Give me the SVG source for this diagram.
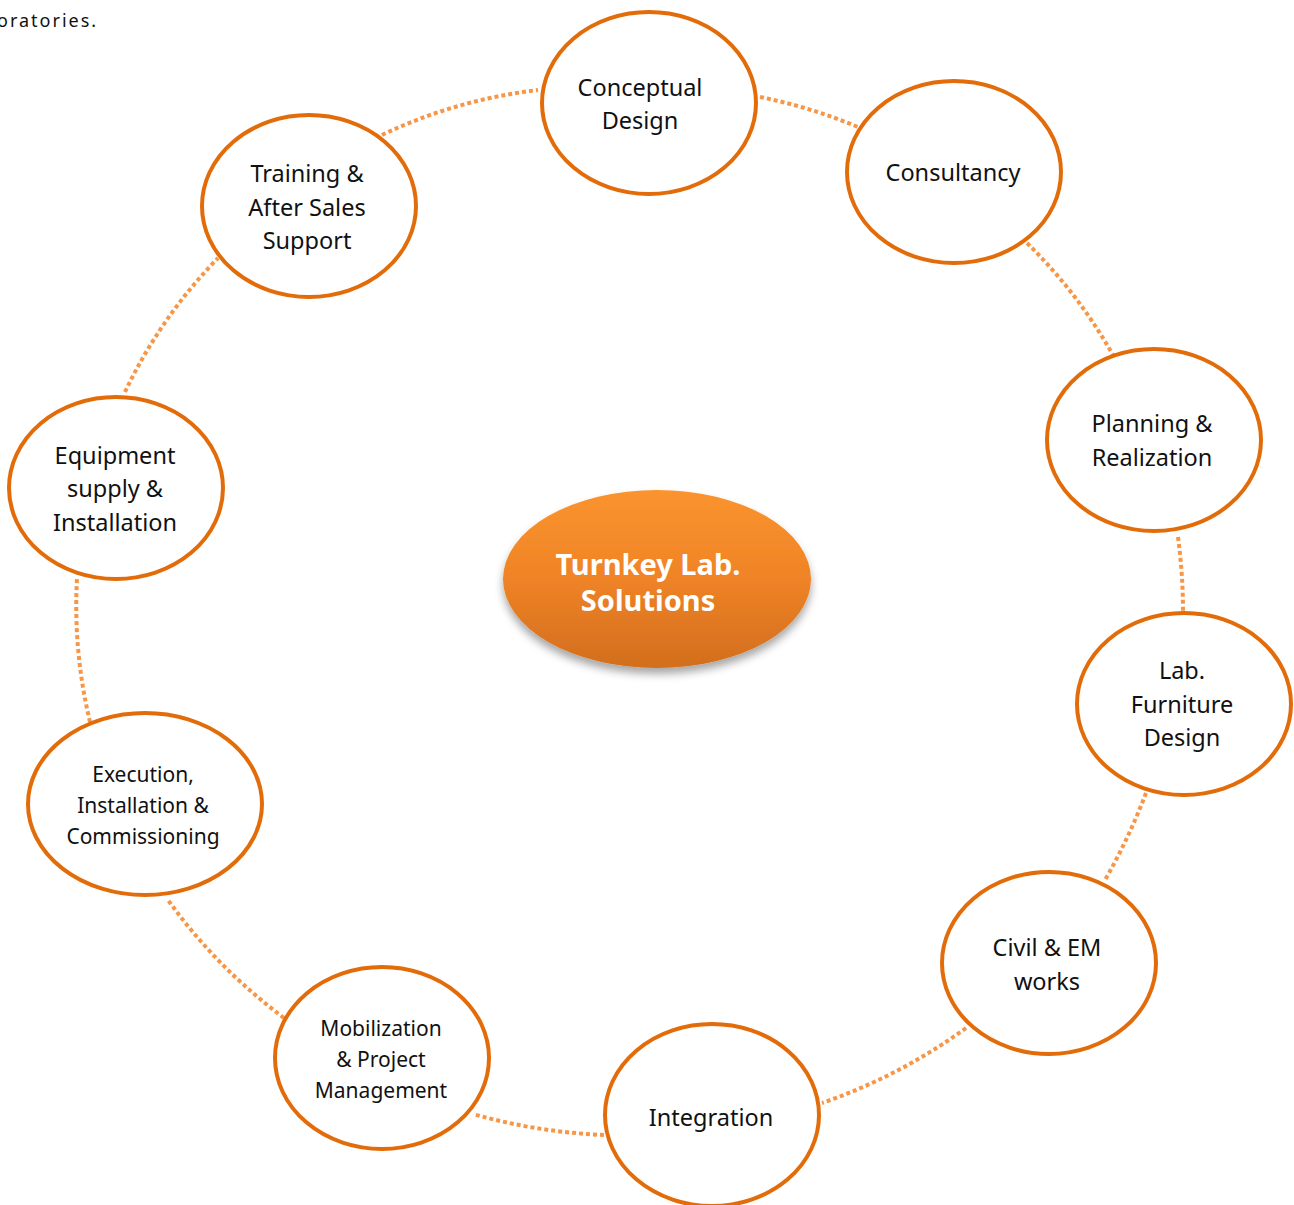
<svg xmlns="http://www.w3.org/2000/svg" width="1294" height="1205" viewBox="0 0 1294 1205">
<style>
.node ellipse{fill:#fff;stroke:#E36C0A;stroke-width:4}
.node text{font-family:"Noto Sans","Open Sans",sans-serif;font-size:23.5px;fill:#111;text-anchor:middle}
.node text.sm{font-size:21px}
.conn path{fill:none;stroke:#F79646;stroke-width:4;stroke-dasharray:4 3}
.hub text{font-family:"Noto Sans","Open Sans",sans-serif;font-size:29px;font-weight:bold;fill:#fff;text-anchor:middle}
.cap{font-family:"Noto Sans","Open Sans",sans-serif;font-size:18px;letter-spacing:2px;fill:#111}
</style>
<defs>
<linearGradient id="hubg" x1="0" y1="0" x2="0" y2="1">
<stop offset="0" stop-color="#FA942E"/>
<stop offset="0.5" stop-color="#EF8326"/>
<stop offset="1" stop-color="#D26E1E"/>
</linearGradient>
<filter id="sh" x="-20%" y="-20%" width="140%" height="150%">
<feDropShadow dx="0" dy="6" stdDeviation="4" flood-color="#000" flood-opacity="0.35"/>
</filter>
</defs>
<rect width="1294" height="1205" fill="#fff"/>
<text class="cap" x="-3" y="27">oratories.</text>
<g class="conn" id="connectors">
<path d="M760,97 Q810,107 858,127"/>
<path d="M1027,243 Q1078,293 1113,355"/>
<path d="M1178,537 Q1183,574 1183,612"/>
<path d="M1146,793 Q1129,838 1105,880"/>
<path d="M966,1028 Q900,1076 822,1103"/>
<path d="M604,1135 Q536,1132 473,1114"/>
<path d="M284,1018 Q216,967 168,900"/>
<path d="M90,722 Q73,651 77,578"/>
<path d="M125,392 Q160,318 218,258"/>
<path d="M382,135 Q455,100 538,90"/>
</g>
<g class="hub" id="hub">
<ellipse cx="657" cy="579" rx="154" ry="89" fill="url(#hubg)" filter="url(#sh)"/>
<text x="648" y="575">Turnkey Lab.</text>
<text x="648" y="611">Solutions</text>
</g>
<g class="node" id="n-conceptual">
<ellipse cx="649" cy="103" rx="107" ry="91"/>
<text x="640" y="96">Conceptual</text>
<text x="640" y="129">Design</text>
</g>
<g class="node" id="n-consultancy">
<ellipse cx="954" cy="172" rx="107" ry="91"/>
<text x="953" y="181">Consultancy</text>
</g>
<g class="node" id="n-planning">
<ellipse cx="1154" cy="440" rx="107" ry="91"/>
<text x="1152" y="432">Planning &amp;</text>
<text x="1152" y="466">Realization</text>
</g>
<g class="node" id="n-furniture">
<ellipse cx="1184" cy="704" rx="107" ry="91"/>
<text x="1182" y="679">Lab.</text>
<text x="1182" y="713">Furniture</text>
<text x="1182" y="746">Design</text>
</g>
<g class="node" id="n-civil">
<ellipse cx="1049" cy="963" rx="107" ry="91"/>
<text x="1047" y="956">Civil &amp; EM</text>
<text x="1047" y="990">works</text>
</g>
<g class="node" id="n-integration">
<ellipse cx="712" cy="1115" rx="107" ry="91"/>
<text x="711" y="1126">Integration</text>
</g>
<g class="node" id="n-mobilization">
<ellipse cx="382" cy="1058" rx="107" ry="91"/>
<text class="sm" x="381" y="1036">Mobilization</text>
<text class="sm" x="381" y="1067">&amp; Project</text>
<text class="sm" x="381" y="1098">Management</text>
</g>
<g class="node" id="n-execution">
<ellipse cx="145" cy="804" rx="117" ry="91"/>
<text class="sm" x="143" y="782">Execution,</text>
<text class="sm" x="143" y="813">Installation &amp;</text>
<text class="sm" x="143" y="844">Commissioning</text>
</g>
<g class="node" id="n-equipment">
<ellipse cx="116" cy="488" rx="107" ry="91"/>
<text x="115" y="464">Equipment</text>
<text x="115" y="497">supply &amp;</text>
<text x="115" y="531">Installation</text>
</g>
<g class="node" id="n-training">
<ellipse cx="309" cy="206" rx="107" ry="91"/>
<text x="307" y="182">Training &amp;</text>
<text x="307" y="216">After Sales</text>
<text x="307" y="249">Support</text>
</g>
</svg>
